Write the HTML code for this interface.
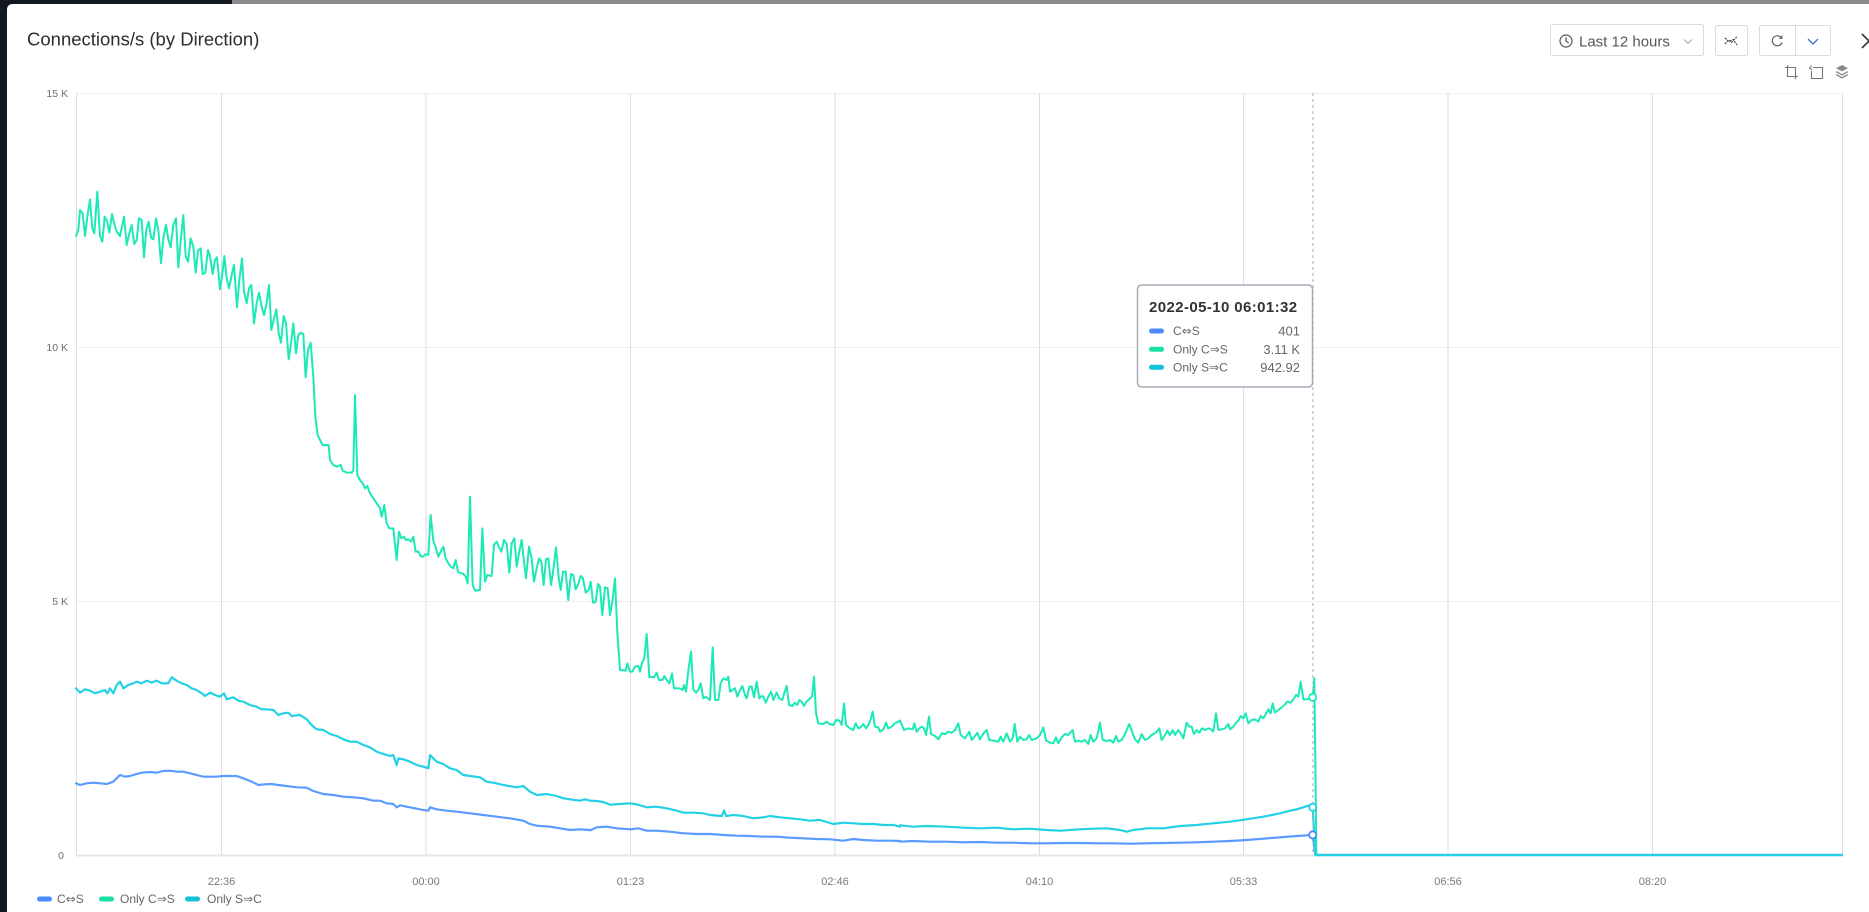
<!DOCTYPE html>
<html>
<head>
<meta charset="utf-8">
<style>
  html,body{margin:0;padding:0;width:1869px;height:912px;overflow:hidden;background:#11181f;}
  svg{position:absolute;left:0;top:0;display:block;}
  text{font-family:"Liberation Sans","DejaVu Sans",sans-serif;}
  .ar{font-family:"DejaVu Sans",sans-serif;}
</style>
</head>
<body>
<svg width="1869" height="912" viewBox="0 0 1869 912" xmlns="http://www.w3.org/2000/svg">
  <!-- background -->
  <rect x="0" y="0" width="1869" height="912" fill="#11181f"/>
  <rect x="232" y="0" width="1637" height="5" fill="#8a8a8a"/>
  <path d="M13,4 H1869 V912 H7 V10 Q7,4 13,4 Z" fill="#ffffff"/>

  <!-- title -->
  <text x="27" y="45.5" font-size="18.5" fill="#2e2e2e">Connections/s (by Direction)</text>

  <!-- time picker -->
  <rect x="1550.5" y="24.5" width="153" height="31" rx="2" fill="#fff" stroke="#dcdcdc"/>
  <circle cx="1566" cy="41" r="6" fill="none" stroke="#555" stroke-width="1.2"/>
  <polyline points="1566,37.2 1566,41.2 1568.6,42.8" fill="none" stroke="#555" stroke-width="1.2"/>
  <text x="1579" y="46.5" font-size="15" fill="#555">Last 12 hours</text>
  <polyline points="1684,39.5 1688,43.5 1692,39.5" fill="none" stroke="#aaa" stroke-width="1.1"/>

  <!-- chart-type button -->
  <rect x="1715.5" y="25.5" width="32" height="30" rx="2" fill="#fff" stroke="#dcdcdc"/>
  <polyline points="1725,44 1728.5,40 1731.5,42.5 1737,36.5" fill="none" stroke="#444" stroke-width="1.2" stroke-dasharray="2 1"/>
  <polyline points="1725,38 1729,41.5 1733,39.5 1737,45" fill="none" stroke="#444" stroke-width="1.2" stroke-dasharray="2 1"/>

  <!-- refresh group -->
  <rect x="1759.5" y="25.5" width="71" height="30" rx="2" fill="#fff" stroke="#dcdcdc"/>
  <line x1="1795.5" y1="25.5" x2="1795.5" y2="55.5" stroke="#dcdcdc"/>
  <path d="M1781.6,38.2 A5,5 0 1 0 1782,42.5" fill="none" stroke="#555" stroke-width="1.1"/>
  <polyline points="1779.2,38.3 1781.8,38.3 1781.8,35.6" fill="none" stroke="#555" stroke-width="1.1"/>
  <polyline points="1808,39 1813,44 1818,39" fill="none" stroke="#3a6fd8" stroke-width="1.3"/>

  <!-- close -->
  <line x1="1862" y1="34" x2="1876" y2="48" stroke="#333" stroke-width="1.6"/>
  <line x1="1862" y1="48" x2="1876" y2="34" stroke="#333" stroke-width="1.6"/>

  <!-- toolbox -->
  <path d="M1787.5,65 V76.5 H1798 M1785,67.5 H1795.5 V79" fill="none" stroke="#777" stroke-width="1.1"/>
  <path d="M1813,67.5 H1822.5 V78.5 H1811.5 V71 M1811.5,65.5 L1809.5,68 L1812,70" fill="none" stroke="#777" stroke-width="1.1"/>
  <path d="M1842,65 L1848,68.2 L1842,71.4 L1836,68.2 Z" fill="#8a8a8a"/>
  <path d="M1836.5,71 L1842,74 L1847.5,71 L1848,72.3 L1842,75.6 L1836,72.3 Z" fill="#8a8a8a"/>
  <path d="M1836.5,74 L1842,77 L1847.5,74 L1848,75.3 L1842,78.6 L1836,75.3 Z" fill="#8a8a8a"/>

  <!-- grid -->
  <g stroke="#efefef" stroke-width="1">
    <line x1="76.5" y1="93.5" x2="1842.5" y2="93.5"/>
    <line x1="76.5" y1="347.5" x2="1842.5" y2="347.5"/>
    <line x1="76.5" y1="601.5" x2="1842.5" y2="601.5"/>
  </g>
  <g stroke="#dedede" stroke-width="1">
    <line x1="76.5" y1="93" x2="76.5" y2="855"/>
    <line x1="221.5" y1="93" x2="221.5" y2="855"/>
    <line x1="426" y1="93" x2="426" y2="855"/>
    <line x1="630.5" y1="93" x2="630.5" y2="855"/>
    <line x1="835" y1="93" x2="835" y2="855"/>
    <line x1="1039.5" y1="93" x2="1039.5" y2="855"/>
    <line x1="1243.5" y1="93" x2="1243.5" y2="855"/>
    <line x1="1448" y1="93" x2="1448" y2="855"/>
    <line x1="1652.5" y1="93" x2="1652.5" y2="855"/>
    <line x1="1842.5" y1="93" x2="1842.5" y2="855"/>
  </g>
  <line x1="76" y1="855.5" x2="1843" y2="855.5" stroke="#e6e6e6" stroke-width="2"/>

  <!-- y labels -->
  <g font-size="10.5" fill="#6e6e6e" text-anchor="end">
    <text x="68" y="97">15 K</text>
    <text x="68" y="351">10 K</text>
    <text x="68" y="605">5 K</text>
    <text x="64" y="859">0</text>
  </g>
  <!-- x labels -->
  <g font-size="11" fill="#7a7a7a" text-anchor="middle">
    <text x="221.5" y="885">22:36</text>
    <text x="426" y="885">00:00</text>
    <text x="630.5" y="885">01:23</text>
    <text x="835" y="885">02:46</text>
    <text x="1039.5" y="885">04:10</text>
    <text x="1243.5" y="885">05:33</text>
    <text x="1448" y="885">06:56</text>
    <text x="1652.5" y="885">08:20</text>
  </g>

  <!-- series: blue C<=>S -->
  <g fill="none" stroke="#5a9bff" stroke-width="6.5" stroke-linejoin="round" stroke-linecap="round">
    <polyline transform="translate(70,660) scale(0.333333)" points="18,370 30,375 50,370 70,368 90,370 110,372 130,365 150,345 165,350 180,348 200,342 215,338 240,336 260,338 280,333 300,332 320,335 340,335 360,340 380,345 400,350 420,350 440,350 460,348 480,348 500,348 520,355 545,365 565,375 585,373 605,372 625,375 650,378 680,382 710,383 730,393 760,402 790,405 820,410 850,412 880,415 910,422 930,422 950,430 970,432 980,442 990,436 1010,440 1040,446 1060,450 1075,452 1080,442 1100,448 1130,452 1160,455 1200,460 1240,465 1280,470 1320,475 1360,482 1380,492 1400,497 1440,500 1470,505 1500,510 1530,508 1560,510"/>
    <polyline transform="translate(570,690) scale(0.333333)" points="60,421 80,412 110,410 140,415 180,418 205,415 230,422 260,422 300,425 340,430 380,432 420,432 460,435 500,437 540,438 580,440 620,440 660,443 700,445 740,447 780,448 820,452 850,447 880,450 920,452 960,452 990,453"/>
    <polyline transform="translate(880,660) scale(0.333333)" points="60,545 100,543 150,545 200,545 250,547 300,546 350,548 400,548 450,550 500,550 550,549 600,549 650,550 700,550 750,551 800,550 850,549 900,548 950,547 1000,545 1050,543 1100,540 1150,536 1200,532 1250,528 1298,525 1306,585 2886,585"/>
  </g>

  <!-- series: green Only C=>S -->
  <g fill="none" stroke="#1de9b6" stroke-width="6" stroke-linejoin="round" stroke-linecap="round">
    <polyline transform="translate(70,150) scale(0.333333)" points="18,258 25,240 30,180 38,190 45,258 52,200 60,148 67,235 73,250 82,125 90,258 97,275 104,200 112,215 118,248 126,192 133,222 140,245 150,258 162,200 170,285 178,250 185,225 193,282 200,270 207,205 215,210 222,322 229,240 236,215 243,262 250,268 258,205 265,240 273,340 280,265 288,225 295,268 302,292 310,225 318,205 325,352 333,262 340,195 347,318 354,335 362,265 370,290 377,368 384,302 392,295 398,372 406,368 414,300 420,318 428,372 435,330 441,322 450,418 456,380 463,318 470,385 477,415 485,375 492,345 501,472 508,390 516,325 522,425 530,460 537,415 544,405 552,520 560,460 567,428 575,470 582,495 590,460 597,405 604,540 611,510 619,478 626,550 633,578 641,498 648,520 656,628 663,580 670,520 678,610 685,555 692,548 700,552 707,682 714,600 722,578 730,680 736,800 743,855 750,870 758,885 770,885 776,885 780,930 790,945 800,950 812,945 818,962 830,968 845,968 850,960 855,735 862,975 870,990"/>
    <polyline transform="translate(380,470) scale(0.333333)" points="-60,30 -52,40 -45,55 -38,48 -30,70 -20,85 -10,100 0,115 5,140 13,105 20,160 28,175 40,175 50,270 57,185 64,205 72,200 78,210 85,208 93,215 100,200 107,245 115,245 122,258 130,260 137,252 145,255 152,135 160,212 167,232 175,260 182,245 190,230 197,265 205,280 212,290 220,295 227,270 234,305 242,310 249,310 257,320 263,340 270,80 278,345 285,362 300,360 307,175 315,335 322,315 335,318 342,225 350,215 357,232 364,245 372,210 380,222 388,308 395,220 403,205 410,290 417,250 425,210 432,275 438,325 447,230 455,265 462,335 470,295 477,265 484,275 491,345 498,268 505,265 513,345 520,300 528,232 536,322 542,360 549,305 557,305 565,390 573,312 580,315 587,358 595,342 602,318 609,325 617,368 626,360 632,335 639,398 647,396 654,342 660,350 667,435 675,352 683,355 690,435 697,395 705,325 712,488 720,600 737,602 742,580 750,605 757,605 765,590 775,588 780,605 786,578 793,565 800,492 808,622 815,620 822,622 830,608 837,630 847,630 853,618 862,632 868,640 876,610 882,655 900,655 908,660 912,645 918,665 925,602 933,545 940,658 948,668 955,660 962,640 970,685 977,680 990,690 998,532 1005,690 1015,690 1022,640 1030,625 1040,630 1045,620 1050,665 1057,660 1065,655 1072,680 1080,660 1087,648 1095,675 1100,685 1108,650 1115,650 1122,682 1130,635 1138,685 1145,678 1150,680 1157,698 1165,680 1173,665 1180,690 1190,668 1198,685 1207,690 1212,672 1220,648 1227,705 1237,708 1244,698 1252,705 1258,690 1265,695 1272,708 1280,695 1290,685 1296,680 1302,620 1308,730"/>
    <polyline transform="translate(570,690) scale(0.333333)" points="738,70 745,100 760,102 770,95 778,102 790,105 798,90 808,92 815,105 822,40 828,105 840,115 850,120 857,100 865,115 872,112 880,102 888,115 895,105 902,88 908,65 915,110 925,112 930,125 940,118 948,98 955,115 965,110 975,100 985,95 990,92"/>
    <polyline transform="translate(880,660) scale(0.333333)" points="60,182 72,210 85,205 98,208 103,190 110,215 118,205 125,200 132,205 138,225 147,170 153,222 165,228 175,238 185,220 195,222 205,215 215,218 225,210 235,190 242,225 255,235 268,215 275,240 285,228 292,218 300,238 312,218 320,210 328,240 340,242 355,245 362,230 370,245 380,220 390,245 398,235 404,192 412,245 420,230 430,240 440,238 447,225 455,240 470,235 480,225 490,202 498,242 510,248 520,250 528,232 535,250 545,232 555,222 565,225 578,210 585,245 595,242 605,245 615,240 625,252 632,225 640,245 650,235 660,188 668,240 680,243 690,240 700,248 708,228 715,245 725,240 735,222 748,192 758,220 765,238 775,248 785,222 795,240 805,235 815,225 828,218 838,205 845,240 855,225 862,212 870,225 878,210 885,225 895,210 903,222 910,235 920,188 928,200 935,200 942,222 950,210 958,218 966,205 975,210 985,205 993,208 1000,215 1008,160 1015,210 1025,208 1035,205 1045,192 1050,208 1060,200 1068,188 1075,182 1082,168 1090,175 1097,160 1105,190 1115,180 1125,178 1135,185 1142,168 1150,175 1160,158 1165,148 1172,160 1178,130 1185,158 1195,150 1210,138 1222,125 1232,128 1240,118 1248,105 1255,110 1262,65 1270,118 1280,118 1290,115 1298,112 1303,55 1306,300 1309,585 2886,585"/>
  </g>

  <!-- series: cyan Only S=>C -->
  <g fill="none" stroke="#22d1e6" stroke-width="6.5" stroke-linejoin="round" stroke-linecap="round">
    <polyline transform="translate(70,660) scale(0.333333)" points="18,85 30,98 45,88 60,92 75,100 90,95 105,90 112,100 120,85 130,100 140,75 150,65 160,85 175,75 190,70 200,65 215,70 230,62 245,68 260,62 275,70 295,70 305,52 320,62 335,70 350,75 365,85 380,90 395,100 405,108 420,98 435,105 450,110 462,100 470,118 490,112 505,122 520,125 540,135 560,140 575,148 590,148 610,150 625,165 640,160 655,158 665,168 690,165 710,178 725,195 740,208 760,210 780,222 800,228 820,238 840,245 860,245 880,255 900,262 920,275 940,282 960,288 970,285 980,315 985,295 1000,298 1020,305 1040,315 1060,320 1075,325 1080,285 1100,305 1120,312 1140,325 1160,330 1180,345 1200,348 1230,352 1250,365 1270,368 1300,375 1340,382 1360,378 1380,395 1400,405 1430,402 1460,408 1480,415 1500,418 1530,422 1545,418 1560,422"/>
    <polyline transform="translate(570,690) scale(0.333333)" points="60,332 80,333 100,336 120,344 150,342 180,340 200,343 230,352 260,350 290,355 320,362 340,368 370,368 400,370 420,375 455,378 462,362 468,378 490,375 520,378 550,385 580,382 600,378 630,382 660,385 690,388 720,392 750,390 790,402 820,398 850,400 880,402 910,402 940,405 970,405 990,410"/>
    <polyline transform="translate(880,660) scale(0.333333)" points="60,496 100,500 140,498 200,500 250,503 300,505 350,503 400,508 450,506 500,510 540,512 600,508 640,506 680,505 720,510 740,515 760,510 800,505 850,505 900,498 950,495 1000,490 1050,485 1100,478 1150,470 1200,460 1230,452 1250,448 1270,442 1290,435 1298,442 1306,585 2886,585"/>
  </g>

  <!-- crosshair -->
  <line x1="1313" y1="93" x2="1313" y2="855" stroke="#a4acba" stroke-width="1" stroke-dasharray="3 3"/>
  <!-- markers -->
  <circle cx="1312.7" cy="697.3" r="3.6" fill="#fff" stroke="#1de9b6" stroke-width="1.8"/>
  <circle cx="1312.7" cy="807.3" r="3.6" fill="#fff" stroke="#22d1e6" stroke-width="1.8"/>
  <circle cx="1312.7" cy="834.9" r="3.6" fill="#fff" stroke="#4b8bff" stroke-width="1.8"/>

  <!-- tooltip -->
  <rect x="1137.5" y="285" width="175" height="102" rx="4" fill="#ffffff" stroke="#a3acb5" stroke-width="1.5"/>
  <text x="1149" y="312" font-size="15" font-weight="bold" fill="#333" letter-spacing="0.4">2022-05-10 06:01:32</text>
  <rect x="1149" y="328.5" width="15" height="5" rx="2.5" fill="#4b8bff"/>
  <rect x="1149" y="346.8" width="15" height="5" rx="2.5" fill="#19e0a4"/>
  <rect x="1149" y="364.8" width="15" height="5" rx="2.5" fill="#14c2d8"/>
  <g font-size="12" fill="#666">
    <text x="1173" y="335">C<tspan class="ar">⇔</tspan>S</text>
    <text x="1173" y="353.3">Only C<tspan class="ar">⇒</tspan>S</text>
    <text x="1173" y="371.3">Only S<tspan class="ar">⇒</tspan>C</text>
  </g>
  <g font-size="13" fill="#666" text-anchor="end">
    <text x="1300" y="335.5">401</text>
    <text x="1300" y="353.8">3.11 K</text>
    <text x="1300" y="371.8">942.92</text>
  </g>

  <!-- legend -->
  <rect x="37" y="896.5" width="15" height="5" rx="2.5" fill="#4b8bff"/>
  <text x="57" y="903" font-size="12" fill="#666">C<tspan class="ar">⇔</tspan>S</text>
  <rect x="99" y="896.5" width="15" height="5" rx="2.5" fill="#19e0a4"/>
  <text x="120" y="903" font-size="12" fill="#666">Only C<tspan class="ar">⇒</tspan>S</text>
  <rect x="185" y="896.5" width="15" height="5" rx="2.5" fill="#14c2d8"/>
  <text x="207" y="903" font-size="12" fill="#666">Only S<tspan class="ar">⇒</tspan>C</text>
</svg>
</body>
</html>
